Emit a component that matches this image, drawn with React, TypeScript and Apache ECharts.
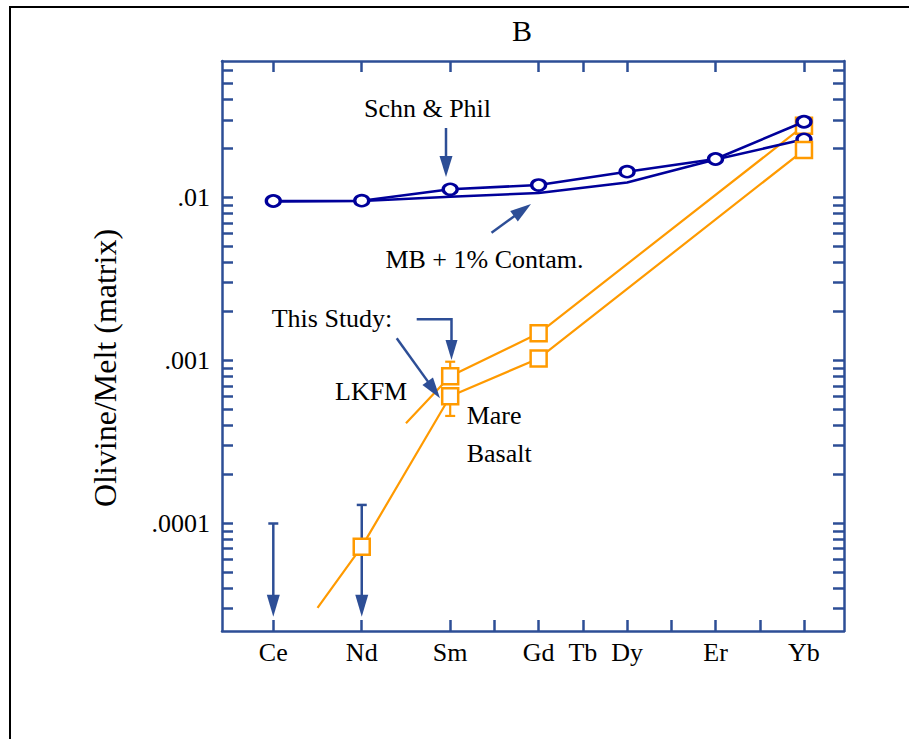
import React, { useEffect, useRef } from "react";
import * as echarts from "echarts";

// ---- Data ----
const elementNames = ["Ce", "Nd", "Sm", "Gd", "Tb", "Dy", "Er", "Yb"];
const elementZ = [58, 60, 62, 64, 65, 66, 68, 70];
const bottomTickZ = [58, 60, 62, 63, 64, 65, 66, 67, 68, 69, 70];
const topTickZ = [58, 60, 62, 64, 65, 66, 68, 70];

const yLabelValues = [0.0001, 0.001, 0.01];
const yLabelTexts = [".0001", ".001", ".01"];
const yTickValues = [
  0.00003, 0.00004, 0.00005, 0.00006, 0.00007, 0.00008, 0.00009,
  0.0001, 0.0002, 0.0003, 0.0004, 0.0005, 0.0006, 0.0007, 0.0008, 0.0009,
  0.001, 0.002, 0.003, 0.004, 0.005, 0.006, 0.007, 0.008, 0.009,
  0.01, 0.02, 0.03, 0.04, 0.05, 0.06,
];

const schnPhilZ = [58, 60, 62, 64, 66, 68, 70];
const schnPhilValues = [0.00952, 0.00956, 0.01123, 0.01193, 0.0144, 0.01723, 0.02917];

const mbContamZ = [58, 60, 62, 64, 66, 68, 70];
const mbContamValues = [0.00945, 0.00952, 0.0101, 0.01066, 0.01236, 0.0171, 0.02275];
const mbContamMarker = [false, false, false, false, false, false, true];

const lkfmZ = [61, 62, 64, 70];
const lkfmValues = [0.000412, 0.0008, 0.001469, 0.02758];
const lkfmMarker = [false, true, true, true];

const mareZ = [59, 60, 62, 64, 70];
const mareValues = [0.0000304, 0.0000721, 0.000603, 0.00103, 0.01956];
const mareMarker = [false, true, true, true, true];

const errZ = [62, 62];
const errFrom = [0.0008, 0.000603];
const errTo = [0.000983, 0.000457];

const limZ = [58, 60];
const limCap = [0.0001, 0.00013];
const limTip = [0.0000268, 0.0000268];

// ---- Styles ----
const STEEL = "#2D4E96";
const NAVY = "#00009A";
const ORANGE = "#FF9A00";
const FONT = "'Liberation Serif', 'Times New Roman', serif";

const X_MIN = 56.84;
const X_MAX = 70.905;
const Y_MIN = 0.0000219;
const Y_MAX = 0.0688;

function App() {
  const ref = useRef<HTMLDivElement>(null);

  useEffect(() => {
    if (!ref.current) return;
    const chart = echarts.init(ref.current, null, { renderer: "svg" });

    const xLabel = (v: number) => {
      const i = elementZ.findIndex((z) => Math.abs(z - v) < 1e-6);
      return i >= 0 ? elementNames[i] : "";
    };
    const yLabel = (v: number) => {
      const i = yLabelValues.findIndex(
        (t) => Math.abs(Math.log10(t) - Math.log10(v)) < 1e-6
      );
      return i >= 0 ? yLabelTexts[i] : "";
    };

    const axisLine = { show: true, onZero: false, lineStyle: { color: STEEL, width: 2.5 } };

    const markerData = (zs: number[], vs: number[], marks: boolean[]) =>
      zs.map((z, i) => ({
        value: [z, vs[i]],
        symbol: marks[i] ? undefined : "none",
      }));

    const arrowHead = (tip: number[], dir: number[], len: number, half: number) => {
      const base = [tip[0] - dir[0] * len, tip[1] - dir[1] * len];
      const perp = [-dir[1], dir[0]];
      return [
        [base[0] + perp[0] * half, base[1] + perp[1] * half],
        [base[0] - perp[0] * half, base[1] - perp[1] * half],
        tip,
      ];
    };
    const unit = (a: number[], b: number[]) => {
      const dx = b[0] - a[0];
      const dy = b[1] - a[1];
      const l = Math.hypot(dx, dy);
      return [dx / l, dy / l];
    };

    const annArrow = (from: number[], tip: number[]) => {
      const d = unit(from, tip);
      const base = [tip[0] - d[0] * 19, tip[1] - d[1] * 19];
      return [
        {
          type: "line",
          shape: { x1: from[0], y1: from[1], x2: base[0], y2: base[1] },
          style: { stroke: STEEL, lineWidth: 2.5 },
          z: 10,
        },
        {
          type: "polygon",
          shape: { points: arrowHead(tip, d, 21, 6.5) },
          style: { fill: STEEL },
          z: 10,
        },
      ];
    };

    const txt = (text: string, x: number, y: number, align: string, size = 26) => ({
      type: "text",
      x,
      y,
      z: 10,
      style: {
        text,
        fill: "#000",
        font: `${size}px ${FONT}`,
        align,
        verticalAlign: "middle",
      },
    });

    const option: any = {
      animation: false,
      backgroundColor: "#fff",
      grid: { left: 222, top: 61, right: 65, bottom: 108, containLabel: false, outerBoundsMode: "none" },
      xAxis: [
        {
          type: "value",
          position: "bottom",
          min: X_MIN,
          max: X_MAX,
          axisLine,
          splitLine: { show: false },
          axisTick: {
            show: true,
            inside: true,
            length: 11,
            customValues: bottomTickZ,
            lineStyle: { color: STEEL, width: 2.5 },
          },
          axisLabel: {
            show: true,
            customValues: elementZ,
            formatter: xLabel,
            color: "#000",
            fontFamily: FONT,
            fontSize: 26,
            margin: 8,
          },
        },
        {
          type: "value",
          position: "top",
          min: X_MIN,
          max: X_MAX,
          axisLine,
          splitLine: { show: false },
          axisTick: {
            show: true,
            inside: true,
            length: 11,
            customValues: topTickZ,
            lineStyle: { color: STEEL, width: 2.5 },
          },
          axisLabel: { show: false },
        },
      ],
      yAxis: [
        {
          type: "log",
          position: "left",
          min: Y_MIN,
          max: Y_MAX,
          axisLine,
          splitLine: { show: false },
          minorTick: { show: false },
          axisTick: {
            show: true,
            inside: true,
            length: 11,
            customValues: yTickValues,
            lineStyle: { color: STEEL, width: 2.5 },
          },
          axisLabel: {
            show: true,
            customValues: yLabelValues,
            formatter: yLabel,
            color: "#000",
            fontFamily: FONT,
            fontSize: 26,
            margin: 12,
          },
        },
        {
          type: "log",
          position: "right",
          min: Y_MIN,
          max: Y_MAX,
          axisLine,
          splitLine: { show: false },
          axisTick: {
            show: true,
            inside: true,
            length: 11,
            customValues: yTickValues,
            lineStyle: { color: STEEL, width: 2.5 },
          },
          axisLabel: { show: false },
        },
      ],
      series: [
        {
          name: "LKFM",
          type: "line",
          z: 2,
          data: markerData(lkfmZ, lkfmValues, lkfmMarker),
          symbol: "rect",
          symbolSize: 16,
          showAllSymbol: true,
          lineStyle: { color: ORANGE, width: 2.2 },
          itemStyle: { color: "#fff", borderColor: ORANGE, borderWidth: 2.5 },
        },
        {
          name: "MB + 1% Contam.",
          type: "line",
          z: 3,
          data: markerData(mbContamZ, mbContamValues, mbContamMarker),
          symbol: "circle",
          symbolSize: [14, 11],
          showAllSymbol: true,
          lineStyle: { color: NAVY, width: 2.6 },
          itemStyle: { color: "#fff", borderColor: NAVY, borderWidth: 3 },
        },
        {
          name: "Schn & Phil",
          type: "line",
          z: 3,
          data: schnPhilZ.map((z, i) => [z, schnPhilValues[i]]),
          symbol: "circle",
          symbolSize: [14, 11],
          showAllSymbol: true,
          lineStyle: { color: NAVY, width: 2.6 },
          itemStyle: { color: "#fff", borderColor: NAVY, borderWidth: 3 },
        },
        {
          name: "Mare Basalt",
          type: "line",
          z: 4,
          data: markerData(mareZ, mareValues, mareMarker),
          symbol: "rect",
          symbolSize: 16,
          showAllSymbol: true,
          lineStyle: { color: ORANGE, width: 2.2 },
          itemStyle: { color: "#fff", borderColor: ORANGE, borderWidth: 2.5 },
        },
        {
          name: "error bars",
          type: "custom",
          z: 1,
          data: errZ.map((z, i) => [z, errFrom[i], errTo[i]]),
          encode: { x: 0, y: [1, 2] },
          renderItem: (params: any, api: any) => {
            const p0 = api.coord([api.value(0), api.value(1)]);
            const p1 = api.coord([api.value(0), api.value(2)]);
            return {
              type: "group",
              children: [
                {
                  type: "line",
                  shape: { x1: p0[0], y1: p0[1], x2: p1[0], y2: p1[1] },
                  style: { stroke: ORANGE, lineWidth: 2.2 },
                },
                {
                  type: "line",
                  shape: { x1: p1[0] - 5, y1: p1[1], x2: p1[0] + 5, y2: p1[1] },
                  style: { stroke: ORANGE, lineWidth: 2.2 },
                },
              ],
            };
          },
        },
        {
          name: "upper limits",
          type: "custom",
          z: 1,
          data: limZ.map((z, i) => [z, limCap[i], limTip[i]]),
          encode: { x: 0, y: [1, 2] },
          renderItem: (params: any, api: any) => {
            const top = api.coord([api.value(0), api.value(1)]);
            const tip = api.coord([api.value(0), api.value(2)]);
            return {
              type: "group",
              children: [
                {
                  type: "line",
                  shape: { x1: top[0], y1: top[1], x2: tip[0], y2: tip[1] - 18 },
                  style: { stroke: STEEL, lineWidth: 2.5 },
                },
                {
                  type: "line",
                  shape: { x1: top[0] - 5, y1: top[1], x2: top[0] + 5, y2: top[1] },
                  style: { stroke: STEEL, lineWidth: 2.5 },
                },
                {
                  type: "polygon",
                  shape: {
                    points: [
                      [tip[0] - 6.5, tip[1] - 22],
                      [tip[0] + 6.5, tip[1] - 22],
                      [tip[0], tip[1]],
                    ],
                  },
                  style: { fill: STEEL },
                },
              ],
            };
          },
        },
      ],
      graphic: [
        {
          type: "rect",
          shape: { x: 10, y: 7, width: 960, height: 800 },
          style: { fill: "none", stroke: "#000", lineWidth: 2 },
          z: 0,
          silent: true,
        },
        txt("B", 522, 30, "center", 30),
        {
          type: "text",
          x: 105,
          y: 368,
          rotation: Math.PI / 2,
          z: 10,
          style: {
            text: "Olivine/Melt (matrix)",
            fill: "#000",
            font: `32px ${FONT}`,
            align: "center",
            verticalAlign: "middle",
          },
        },
        txt("Schn & Phil", 427.5, 108.2, "center"),
        txt("MB + 1% Contam.", 583.5, 259.2, "right"),
        txt("This Study:", 271.7, 318, "left"),
        txt("LKFM", 335, 391.2, "left"),
        txt("Mare", 466.7, 415.5, "left"),
        txt("Basalt", 466.7, 453, "left"),
        ...annArrow([446, 128], [446, 177]),
        ...annArrow([491.5, 232.7], [531, 204]),
        {
          type: "polyline",
          shape: { points: [[416.7, 319.3], [451.5, 319.3], [451.5, 342]] },
          style: { stroke: STEEL, lineWidth: 2.5, fill: "none" },
          z: 10,
        },
        {
          type: "polygon",
          shape: { points: [[445.5, 340], [457.5, 340], [451.5, 360]] },
          style: { fill: STEEL },
          z: 10,
        },
        ...annArrow([396.7, 338.3], [440, 398.3]),
      ],
    };

    chart.setOption(option);
    return () => chart.dispose();
  }, []);

  return (
    <div
      ref={ref}
      style={{ position: "absolute", left: 0, top: 0, width: 909, height: 739, background: "#fff" }}
    />
  );
}

export default App;
